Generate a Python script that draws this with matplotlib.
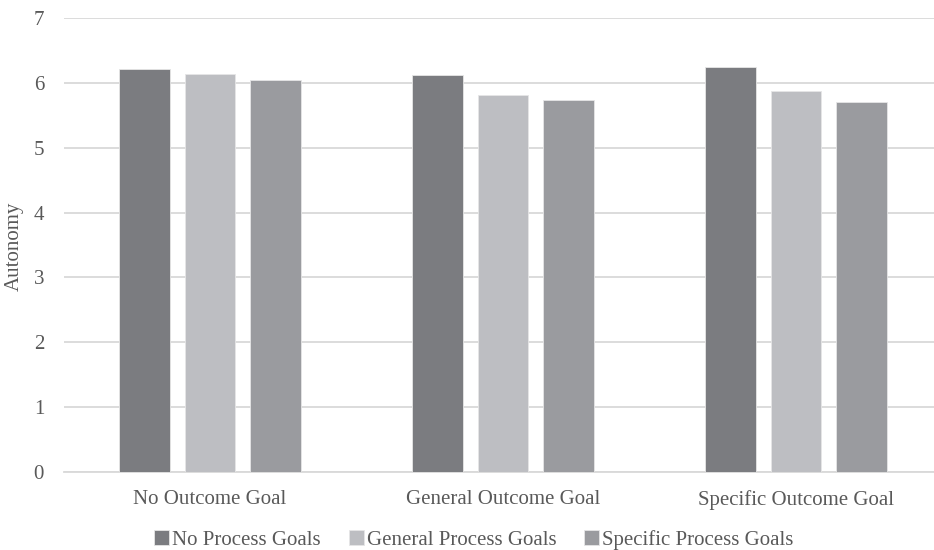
import numpy as np
import matplotlib.pyplot as plt

# Mean autonomy ratings by outcome goal (groups) and process goal (series)
outcome_goals = ['No Outcome Goal', 'General Outcome Goal', 'Specific Outcome Goal']
no_process = [6.22, 6.12, 6.25]
general_process = [6.14, 5.81, 5.87]
specific_process = [6.05, 5.74, 5.70]

series_names = ['No Process Goals', 'General Process Goals', 'Specific Process Goals']
series_colors = ['#7b7c80', '#bdbec2', '#9a9b9f']
y_ticks = [0, 1, 2, 3, 4, 5, 6, 7]

plt.rcParams['font.family'] = ['Liberation Serif', 'DejaVu Serif']

fig = plt.figure(figsize=(9.34, 5.5), dpi=100)
ax = fig.add_axes([63.5 / 934, 78 / 550, 879 / 934, 454 / 550])

x = np.arange(len(outcome_goals))
width = 0.174
step = 0.222
for i, (vals, name, col) in enumerate(zip([no_process, general_process, specific_process],
                                         series_names, series_colors)):
    ax.bar(x + (i - 1) * step, vals, width, color=col, label=name,
           edgecolor='#e6e6e6', linewidth=0.6, zorder=3)

ax.set_xlim(-0.5, 2.5)
ax.set_ylim(0, 7)
ax.set_yticks(y_ticks)
ax.yaxis.grid(True, color='#d9d9d9', linewidth=1.3, zorder=0)
ax.set_xticks(x)
ax.set_xticklabels(outcome_goals)
ax.tick_params(axis='both', length=0, labelsize=15, colors='#595959')
ax.tick_params(axis='x', pad=13)
ax.tick_params(axis='y', pad=14)
for s in ['top', 'right', 'left']:
    ax.spines[s].set_visible(False)
ax.spines['bottom'].set_color('#d9d9d9')
ax.spines['bottom'].set_linewidth(1.3)

ax.set_ylabel('Autonomy', fontsize=15, color='#595959')
ax.yaxis.set_label_coords((24 - 63.5) / 879, (472 - 246) / 454)

fig.legend(loc='center', bbox_to_anchor=(474 / 934, 1 - 540 / 550), ncol=3,
           frameon=False, fontsize=15, labelcolor='#595959',
           handlelength=0.7, handleheight=0.7, handletextpad=0.15,
           columnspacing=1.35)

fig.savefig('out.png', dpi=100)
